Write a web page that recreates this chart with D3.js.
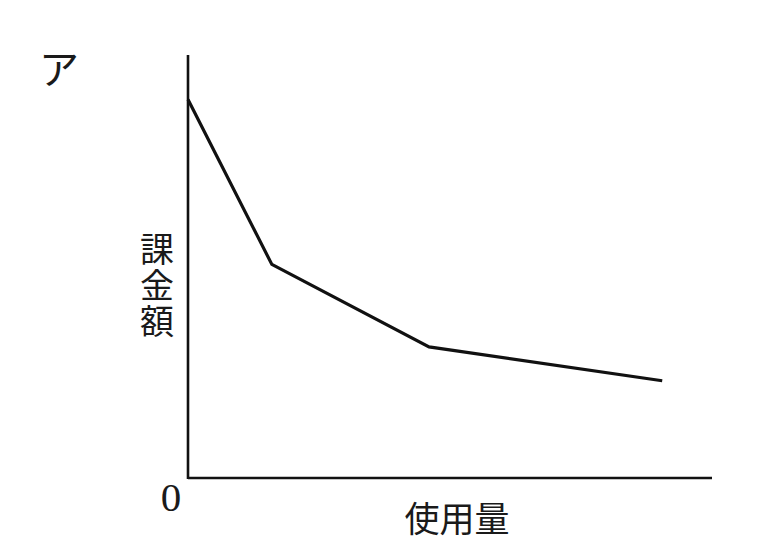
<!DOCTYPE html>
<html><head><meta charset="utf-8">
<script src="https://cdn.jsdelivr.net/npm/d3@7"></script>
<style>body{margin:0;background:#fff}</style>
</head><body>
<script>
const usage = [0, 16, 46, 90.5];
const charge = [89.5, 50.5, 31, 23];
const xLabel = "使用量";
const yLabel = "課金額";
const panelLabel = "ア";
const originLabel = "0";

const W = 768, H = 560;
const svg = d3.select("body").append("svg").attr("width", W).attr("height", H);
const x = d3.scaleLinear().domain([0, 100]).range([188, 712]);
const y = d3.scaleLinear().domain([0, 100]).range([478, 55]);

// axes
svg.append("line").attr("x1", x(0)).attr("x2", x(0)).attr("y1", y(0) + 1).attr("y2", y(100))
  .attr("stroke", "#111").attr("stroke-width", 2.6);
svg.append("line").attr("x1", x(0)).attr("x2", x(100)).attr("y1", y(0)).attr("y2", y(0))
  .attr("stroke", "#111").attr("stroke-width", 2.6);

const data = usage.map((u, i) => [u, charge[i]]);
svg.append("path").datum(data)
  .attr("d", d3.line().x(d => x(d[0])).y(d => y(d[1])))
  .attr("fill", "none").attr("stroke", "#111").attr("stroke-width", 3.2).attr("stroke-linejoin", "miter");

const jp = "'Noto Sans CJK JP', sans-serif";
svg.append("text").attr("x", 59).attr("y", 84).attr("text-anchor", "middle")
  .attr("font-family", jp).attr("font-size", 40).attr("font-weight", 400).attr("fill", "#1a1a1a").text(panelLabel);

svg.append("text").attr("x", 157).attr("y", 286).attr("text-anchor", "middle")
  .style("writing-mode", "vertical-rl").style("letter-spacing", "2px")
  .attr("font-family", jp).attr("font-size", 34).attr("font-weight", 400).attr("fill", "#1a1a1a").text(yLabel);

svg.append("text").attr("x", 171).attr("y", 511).attr("text-anchor", "middle")
  .attr("font-family", "'Liberation Serif', serif").attr("font-size", 41).attr("fill", "#1a1a1a").text(originLabel);

svg.append("text").attr("x", 457).attr("y", 532).attr("text-anchor", "middle")
  .attr("font-family", jp).attr("font-size", 35).attr("font-weight", 400).attr("fill", "#1a1a1a").text(xLabel);
</script>
</body></html>
